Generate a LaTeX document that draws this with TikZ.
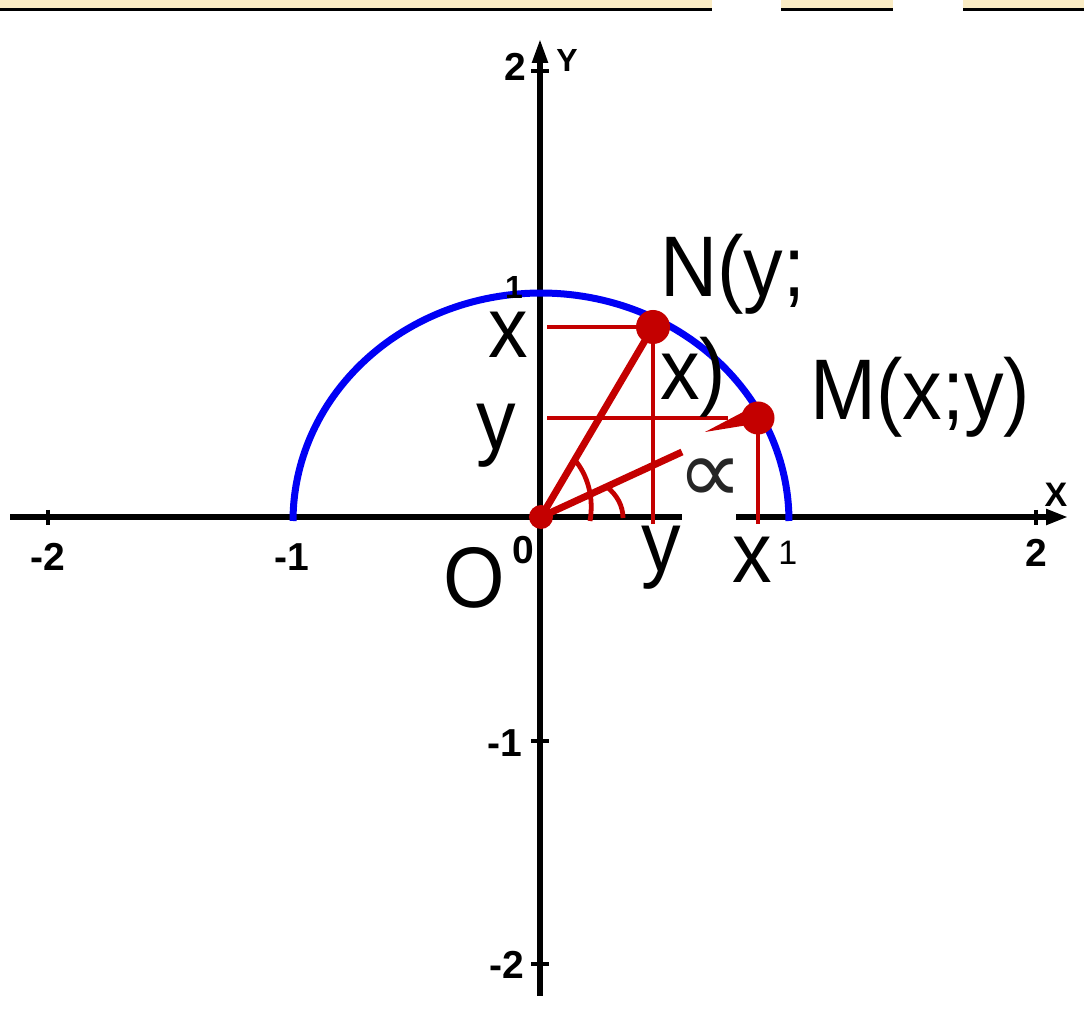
\documentclass[tikz,border=0pt]{standalone}
\usepackage{fontspec}
\setmainfont{Liberation Sans}
\newfontfamily\labfont[FakeStretch=0.92]{Liberation Sans}
\newfontfamily\dejavu{DejaVu Sans}
\usetikzlibrary{arrows.meta}
\definecolor{redc}{RGB}{196,0,0}
\definecolor{bluec}{RGB}{0,0,245}
\definecolor{bandc}{RGB}{250,236,196}
\begin{document}
\begin{tikzpicture}[x=0.5pt,y=-0.5pt,
  axis/.style={line width=2.6pt, black},
  tickmark/.style={line width=2pt, black},
  redthick/.style={line width=3.5pt, redc},
  redthin/.style={line width=2.4pt, redc},
  biglab/.style={font=\labfont\fontsize{43}{50}\selectfont, inner sep=0pt, anchor=base west},
  numlab/.style={font=\bfseries\fontsize{19.5}{21}\selectfont, inner sep=0pt},
  dot/.style={circle, fill=redc, inner sep=0pt}
]
\useasboundingbox (0,0) rectangle (1084,1021);
% top band
\fill[bandc] (0,0) rectangle (712,8);
\fill[bandc] (781,0) rectangle (893,8);
\fill[bandc] (963,0) rectangle (1084,8);
\draw[line width=1.2pt] (0,9.5) -- (712,9.5);
\draw[line width=1.2pt] (781,9.5) -- (893,9.5);
\draw[line width=1.2pt] (963,9.5) -- (1084,9.5);
% axes
\coordinate (O) at (541,517);
\coordinate (xl) at (10,517);
\coordinate (xg1) at (682,517);
\coordinate (xg2) at (736,517);
\coordinate (xr) at (1068,517);
\coordinate (yb) at (540,996);
\coordinate (yt) at (540,39);
\draw[axis] (xl) -- (xg1);
\draw[axis, -{Triangle[length=11pt,width=7.5pt]}] (xg2) -- (xr);
\draw[axis, -{Triangle[length=12pt,width=7.5pt]}] (yb) -- (yt);
\draw[tickmark] (48,510) -- (48,525);
\draw[tickmark] (1036,510) -- (1036,525);
\foreach \yy in {71,294,741,964} \draw[tickmark] (531,\yy) -- (549,\yy);
% semicircle
\draw[bluec, line width=3.5pt] plot[domain=180:0, samples=120] ({541+248*cos(\x)}, {521-228*sin(\x)});
% red construction
\coordinate (N) at (653,327);
\coordinate (M) at (758,418);
\coordinate (Ny) at (547,327);
\coordinate (Nx) at (653,524);
\coordinate (My) at (547,418);
\coordinate (Me) at (728,418);
\coordinate (Mx) at (758,524);
\coordinate (Ocut) at (682,452);
\draw[redthin] (Ny) -- (N);
\draw[redthin] (N) -- (Nx);
\draw[redthin] (My) -- (Me);
\draw[redthin] (M) -- (Mx);
\draw[redthick] (O) -- (N);
\draw[redthick] (O) -- (Ocut);
\fill[redc] (705,432) -- (745,411) -- (748,425) -- cycle;
\draw[redthin] (590,521) .. controls (594,498) and (588,475) .. (574,459);
\draw[redthin] (623,518) .. controls (623,506) and (617,495) .. (607,487);
\node[dot, minimum size=17pt] (Nd) at (N) {};
\node[dot, minimum size=16.5pt] (Md) at (M) {};
\node[dot, minimum size=12pt] (Od) at (O) {};
% labels
\node[biglab] (Nl1) at (660,297) {N(y;};
\node[biglab] (Nl2) at (660,400) {x)};
\node[biglab] (Ml) at (810,420) {M(x;y)};
\node[biglab] (xleft) at (488,358) {x};
\node[biglab] (yleft) at (476,450) {y};
\node[biglab] (ybot) at (641,572) {y};
\node[biglab] (xbot) at (732,583) {x};
\node[biglab] (Ol) at (443,608) {O};
\node[numlab, anchor=base west] (zero) at (512,564) {0};
\node[inner sep=0pt, anchor=base west, font=\fontsize{17}{20}\selectfont] (one) at (778,565) {1};
\node[numlab] (xm2) at (48,557) {-2};
\node[numlab] (xm1) at (292,557) {-1};
\node[numlab] (xp2) at (1036,553) {2};
\node[numlab] (yp2) at (515,67) {2};
\node[numlab, font=\bfseries\fontsize{16}{18}\selectfont] (yp1) at (514,287) {1};
\node[numlab] (ym1) at (505,743) {-1};
\node[numlab] (ym2) at (507,965) {-2};
\node[numlab, font=\bfseries\fontsize{16}{18}\selectfont] (Yl) at (567,60) {Y};
\node[numlab, font=\bfseries\fontsize{17}{18}\selectfont] (Xl) at (1056,495) {X};
\node[font=\dejavu\fontsize{46}{50}\selectfont, text=black!85, inner sep=0pt] (alpha) at (710,481) {∝};
\end{tikzpicture}
\end{document}
